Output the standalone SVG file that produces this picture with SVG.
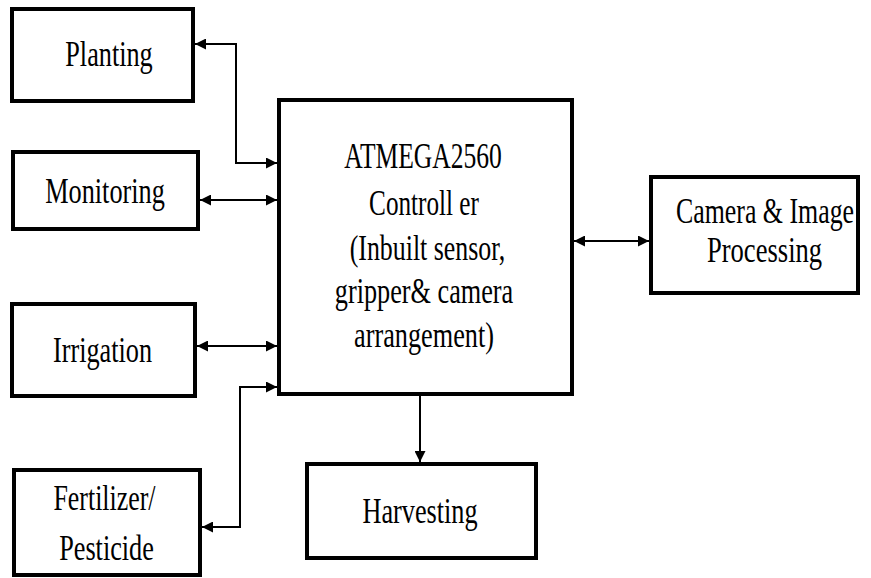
<svg xmlns="http://www.w3.org/2000/svg" width="871" height="578" viewBox="0 0 871 578">
<style>
.box{fill:#fff;stroke:#000;stroke-width:4}
.t{font-family:'Liberation Serif','Times New Roman',serif;font-size:35px;fill:#000;text-anchor:middle}
.c{fill:none;stroke:#000;stroke-width:2}
</style>
<defs>
<marker id="ah" viewBox="0 0 10 10" refX="10" refY="5" markerWidth="11" markerHeight="11" markerUnits="userSpaceOnUse" orient="auto-start-reverse">
<path d="M0,0 L10,5 L0,10 z" fill="#000"/>
</marker>
</defs>
<rect width="871" height="578" fill="#fff"/>
<g id="connectors">
<path class="c" d="M195,44 H236 V163 H277" marker-start="url(#ah)" marker-end="url(#ah)"/>
<path class="c" d="M200,200 H277" marker-start="url(#ah)" marker-end="url(#ah)"/>
<path class="c" d="M197,346 H277" marker-start="url(#ah)" marker-end="url(#ah)"/>
<path class="c" d="M277,387 H240 V527 H202" marker-start="url(#ah)" marker-end="url(#ah)"/>
<path class="c" d="M574,241 H649" marker-start="url(#ah)" marker-end="url(#ah)"/>
<path class="c" d="M420,396 V462" marker-end="url(#ah)"/>
</g>
<g id="planting">
<rect class="box" x="12" y="9" width="181" height="92"/>
<text class="t" transform="translate(109,66) scale(0.75,1)">Planting</text>
</g>
<g id="monitoring">
<rect class="box" x="13" y="152" width="185" height="77"/>
<text class="t" transform="translate(105,203) scale(0.75,1)">Monitoring</text>
</g>
<g id="irrigation">
<rect class="box" x="12" y="304" width="183" height="92"/>
<text class="t" transform="translate(102.5,362) scale(0.75,1)">Irrigation</text>
</g>
<g id="fertilizer">
<rect class="box" x="14" y="470" width="186" height="105"/>
<text class="t" transform="translate(104.5,510) scale(0.74,1)">Fertilizer/</text>
<text class="t" transform="translate(106.5,560) scale(0.75,1)">Pesticide</text>
</g>
<g id="controller">
<rect class="box" x="279" y="100" width="293" height="294"/>
<text class="t" transform="translate(423,168) scale(0.73,1)">ATMEGA2560</text>
<text class="t" transform="translate(424,215) scale(0.72,1)">Controll er</text>
<text class="t" transform="translate(427.5,260) scale(0.74,1)">(Inbuilt sensor,</text>
<text class="t" transform="translate(424,303) scale(0.75,1)">gripper&amp; camera</text>
<text class="t" transform="translate(424,347) scale(0.75,1)">arrangement)</text>
</g>
<g id="harvesting">
<rect class="box" x="307" y="464" width="229" height="94"/>
<text class="t" transform="translate(420,523) scale(0.75,1)">Harvesting</text>
</g>
<g id="camera">
<rect class="box" x="651" y="177" width="207" height="116"/>
<text class="t" transform="translate(765,223) scale(0.74,1)">Camera &amp; Image</text>
<text class="t" transform="translate(764.5,262) scale(0.76,1)">Processing</text>
</g>
</svg>
